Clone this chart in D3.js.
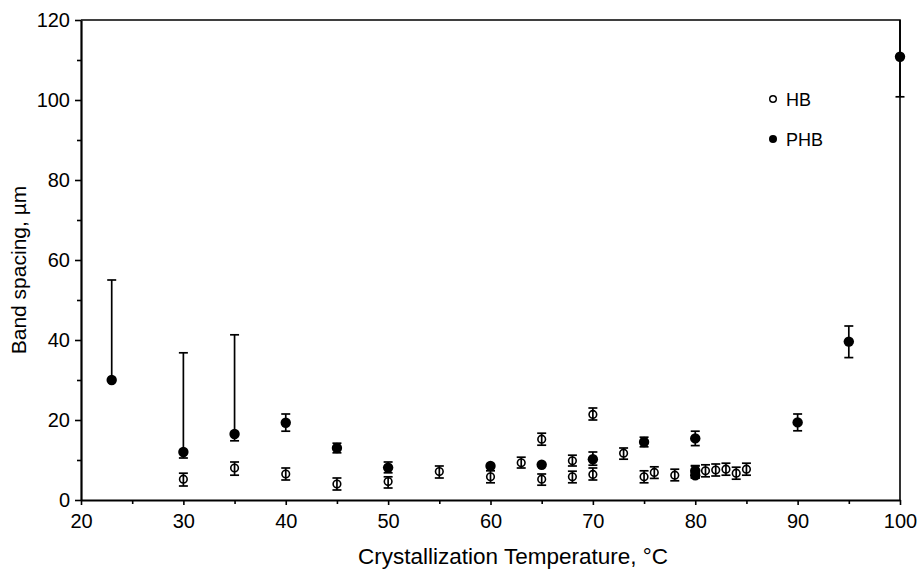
<!DOCTYPE html>
<html lang="en">
<head>
	<meta charset="UTF-8">
	<title>band spacing</title>
	<style>
		* {
			margin: 0;
			padding: 0;
		}
		body {
			background: #fff;
		}
		svg {
			display: block;
			font-family: "Liberation Sans", Arial, Helvetica, sans-serif;
		}
	</style>
</head>
<body>
	<script src="https://cdn.jsdelivr.net/npm/d3@7"></script>
	<script>
		// HB (open circles): temperature, value, error bar bottom/top
		var hbTemp  = [30, 35, 40, 45, 50, 55, 60, 63, 65, 65, 68, 68, 70, 70, 73, 75, 76, 78, 80, 81, 82, 83, 84, 85];
		var hbValue = [5.2, 8, 6.5, 4, 4.6, 7.1, 5.8, 9.3, 15.2, 5.2, 9.8, 5.8, 21.4, 6.4, 11.7, 5.8, 6.9, 6.2, 7.0, 7.3, 7.5, 7.7, 6.7, 7.7];
		var hbLow   = [3.5, 6.2, 5, 2.5, 3, 5.5, 4.3, 8, 13.7, 3.7, 8.5, 4.3, 20, 5, 10.2, 4.3, 5.4, 4.8, 5.5, 5.8, 6, 6.2, 5.2, 6.2];
		var hbHigh  = [6.7, 9.5, 8, 5.5, 5.8, 8.5, 7.3, 10.7, 16.7, 6.5, 11.2, 7.2, 23, 8, 13, 7.3, 8.3, 7.7, 8.5, 8.8, 9, 9.2, 8.2, 9.2];

		// PHB (filled circles)
		var phbTemp  = [23, 30, 35, 40, 45, 50, 60, 65, 70, 75, 80, 80, 80, 90, 95, 100];
		var phbValue = [30, 12, 16.5, 19.3, 13, 8.1, 8.5, 8.8, 10.2, 14.5, 15.4, 7.3, 6.2, 19.4, 39.6, 110.8];
		var phbLow   = [30, 10.5, 14.8, 17.2, 11.8, 6.8, 8.5, 8.8, 8.7, 13.3, 13.6, 6.2, 5.5, 17.3, 35.6, 100.8];
		var phbHigh  = [55, 36.8, 41.3, 21.5, 14.2, 9.5, 8.5, 8.8, 12, 15.7, 17.2, 8.6, 7, 21.5, 43.5, 121];

		// axes
		var xTicks = [20, 30, 40, 50, 60, 70, 80, 90, 100];
		var xMinor = [25, 35, 45, 55, 65, 75, 85, 95];
		var yTicks = [0, 20, 40, 60, 80, 100, 120];
		var yMinor = [10, 30, 50, 70, 90, 110];

		var width = 919, height = 569;
		var padding = {top: 20, right: 19, bottom: 69, left: 81};
		var contentWidth = width - padding.left - padding.right;
		var contentHeight = height - padding.top - padding.bottom;

		var svg = d3.select('body').append('svg').attr('width', width).attr('height', height);

		var xScale = d3.scaleLinear().domain([20, 100]).range([padding.left, padding.left + contentWidth]);
		var yScale = d3.scaleLinear().domain([0, 120]).range([padding.top + contentHeight, padding.top]);

		function zip(t, v, lo, hi) {
			return t.map(function (d, i) { return {t: d, v: v[i], lo: lo[i], hi: hi[i]}; });
		}
		var hb = zip(hbTemp, hbValue, hbLow, hbHigh);
		var phb = zip(phbTemp, phbValue, phbLow, phbHigh);

		svg.append('clipPath').attr('id', 'plot-clip')
			.append('rect')
			.attr('x', padding.left - 10).attr('y', padding.top)
			.attr('width', contentWidth + 20).attr('height', contentHeight);

		// frame: top and right
		svg.append('path')
			.attr('d', 'M' + xScale(20) + ',' + yScale(120) + 'H' + xScale(100) + 'V' + yScale(0))
			.attr('fill', 'none').attr('stroke', '#000').attr('stroke-width', 1.6);

		// x axis
		svg.append('g')
			.attr('transform', 'translate(0,' + yScale(0) + ')')
			.call(d3.axisBottom(xScale).tickValues(xTicks).tickSize(5).tickPadding(9).tickSizeOuter(0));
		svg.append('g')
			.attr('transform', 'translate(0,' + yScale(0) + ')')
			.call(d3.axisBottom(xScale).tickValues(xMinor).tickSize(4).tickFormat('').tickSizeOuter(0))
			.select('.domain').remove();

		// y axis
		svg.append('g')
			.attr('transform', 'translate(' + xScale(20) + ',0)')
			.call(d3.axisLeft(yScale).tickValues(yTicks).tickSize(6).tickPadding(5).tickSizeOuter(0));
		svg.append('g')
			.attr('transform', 'translate(' + xScale(20) + ',0)')
			.call(d3.axisLeft(yScale).tickValues(yMinor).tickSize(4).tickFormat('').tickSizeOuter(0))
			.select('.domain').remove();

		svg.selectAll('.domain').attr('stroke-width', 2.2);
		svg.selectAll('.tick line').attr('stroke-width', 1.6);
		svg.selectAll('.tick text')
			.style('font-size', '20px')
			.style('font-family', '"Liberation Sans", Arial, sans-serif')
			.attr('fill', '#000');

		// axis titles
		svg.append('text')
			.attr('x', 513).attr('y', 564)
			.attr('text-anchor', 'middle')
			.style('font-size', '22.5px')
			.text('Crystallization Temperature, \u00b0C');

		svg.append('text')
			.attr('transform', 'translate(26,270) rotate(-90)')
			.attr('text-anchor', 'middle')
			.style('font-size', '21px')
			.text('Band spacing, \u00b5m');

		// error bars
		var plot = svg.append('g').attr('clip-path', 'url(#plot-clip)');
		var capW = 4.5;

		function drawBars(data, cls) {
			var g = plot.selectAll('.' + cls)
				.data(data.filter(function (d) { return d.hi !== d.lo; }))
				.enter()
				.append('g')
				.classed(cls, true)
				.attr('stroke', '#000')
				.attr('stroke-width', 1.7);
			g.append('line')
				.attr('x1', function (d) { return xScale(d.t); })
				.attr('x2', function (d) { return xScale(d.t); })
				.attr('y1', function (d) { return yScale(d.lo); })
				.attr('y2', function (d) { return yScale(d.hi); });
			g.filter(function (d) { return d.hi !== d.v; })
				.append('line')
				.attr('x1', function (d) { return xScale(d.t) - capW; })
				.attr('x2', function (d) { return xScale(d.t) + capW; })
				.attr('y1', function (d) { return yScale(d.hi); })
				.attr('y2', function (d) { return yScale(d.hi); });
			g.filter(function (d) { return d.lo !== d.v; })
				.append('line')
				.attr('x1', function (d) { return xScale(d.t) - capW; })
				.attr('x2', function (d) { return xScale(d.t) + capW; })
				.attr('y1', function (d) { return yScale(d.lo); })
				.attr('y2', function (d) { return yScale(d.lo); });
		}
		drawBars(hb, 'hb-bar');
		drawBars(phb, 'phb-bar');

		// points
		plot.selectAll('.hb')
			.data(hb)
			.enter()
			.append('circle')
			.classed('hb', true)
			.attr('cx', function (d) { return xScale(d.t); })
			.attr('cy', function (d) { return yScale(d.v); })
			.attr('r', 3.8)
			.attr('fill', 'none')
			.attr('stroke', '#000')
			.attr('stroke-width', 1.6);

		plot.selectAll('.phb')
			.data(phb)
			.enter()
			.append('circle')
			.classed('phb', true)
			.attr('cx', function (d) { return xScale(d.t); })
			.attr('cy', function (d) { return yScale(d.v); })
			.attr('r', 5.2)
			.attr('fill', '#000');

		// legend
		var legend = svg.append('g').attr('transform', 'translate(773,99)');
		legend.append('circle').attr('cx', 0).attr('cy', 0).attr('r', 3.3)
			.attr('fill', 'none').attr('stroke', '#000').attr('stroke-width', 1.4);
		legend.append('text').attr('x', 13).attr('y', 6.5).style('font-size', '18px').text('HB');
		legend.append('circle').attr('cx', 0).attr('cy', 40).attr('r', 4).attr('fill', '#000');
		legend.append('text').attr('x', 13).attr('y', 46.5).style('font-size', '18px').text('PHB');
	</script>
</body>
</html>
